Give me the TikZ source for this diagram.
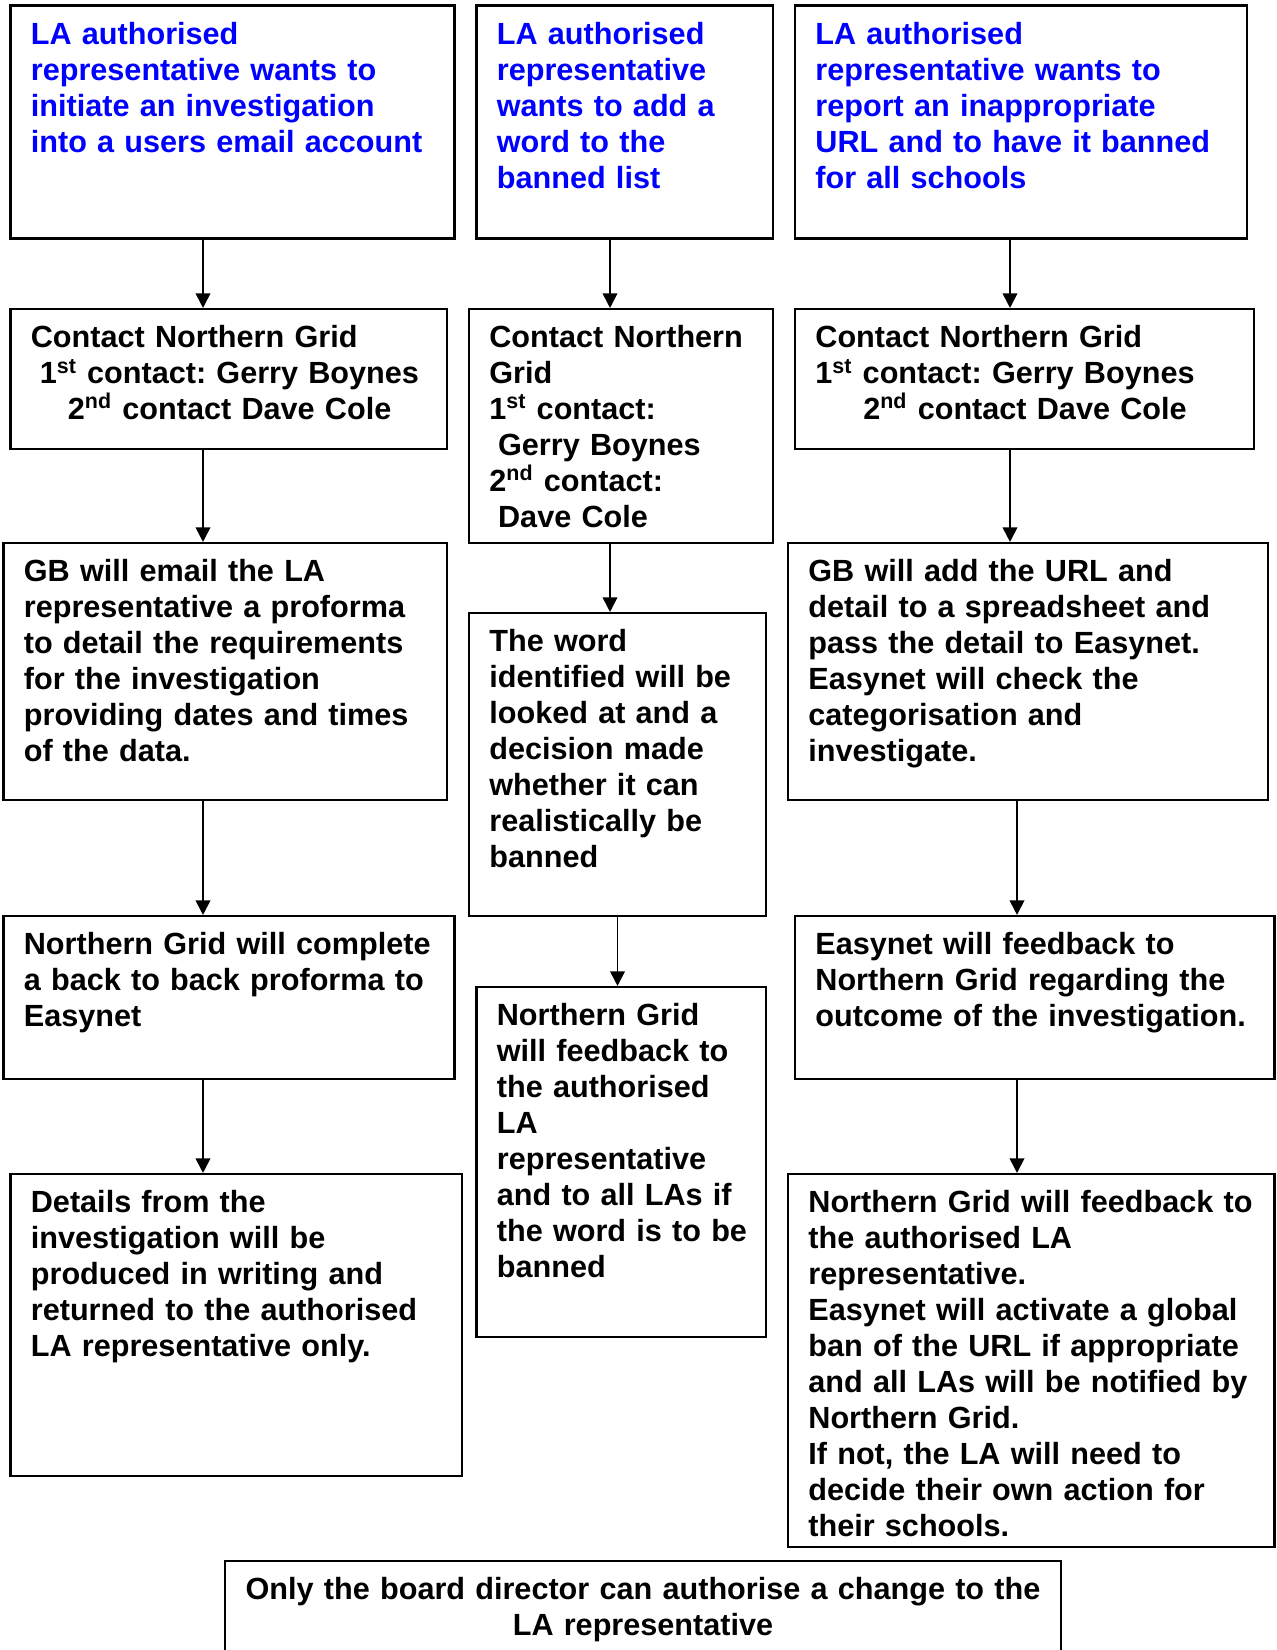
\documentclass[tikz,border=0pt]{standalone}
\usepackage{fontspec}
\setmainfont{Liberation Sans}
\usetikzlibrary{arrows.meta,fit,calc}
\definecolor{requestblue}{RGB}{0,0,255}

\tikzset{stage/.style={draw,line width=1pt,inner sep=0pt},
stage text/.style={anchor=base west,inner sep=0pt,text width=300pt,align=left,font=\bfseries\frenchspacing\fontsize{14.7pt}{17.25pt}\selectfont},
request text/.style={stage text,text=requestblue},
note text/.style={stage text,anchor=base,align=center,text width=390pt},
flow/.style={line width=0.9pt,-{Triangle[length=7pt,width=7pt]}}}

\begin{document}
\begin{tikzpicture}[x=0.48pt,y=-0.48pt]
\clip (0,0) rectangle (1276,1650);

%% Coordinates of the arrow columns (pixels, y downwards).
\coordinate (col1) at (203,0);
\coordinate (col2) at (610,0);
\coordinate (col2b) at (617.5,0);
\coordinate (col3) at (1010,0);
\coordinate (col3b) at (1017,0);

%% boxes, left column
\node [stage,fit={(10.5,5.5) (454.5,238.5)}] (a1) {};
\node [stage,fit={(10.5,309) (447,449)}] (b1) {};
\node [stage,fit={(3.5,543) (447,800)}] (c1) {};
\node [stage,fit={(3.5,916) (454.5,1079)}] (d1) {};
\node [stage,fit={(10.5,1174) (462,1476)}] (e1) {};

%% boxes, middle column
\node [stage,fit={(476.5,5.5) (773,238.5)}] (a2) {};
\node [stage,fit={(469,309) (773,543)}] (b2) {};
\node [stage,fit={(469,613) (766,916)}] (c2) {};
\node [stage,fit={(476.5,987) (766,1337)}] (d2) {};

%% boxes, right column
\node [stage,fit={(795,5.5) (1247,238.5)}] (a3) {};
\node [stage,fit={(795,309) (1254,449)}] (b3) {};
\node [stage,fit={(788,543) (1268,800)}] (c3) {};
\node [stage,fit={(795,916) (1274.5,1079)}] (d3) {};
\node [stage,fit={(788,1174) (1274.5,1547)}] (e3) {};

%% note at the foot (runs off the page)
\node [stage,fit={(225,1561) (1061,1700)}] (note) {};

%% arrows
\draw [flow] (a1.south -| col1) -- (b1.north -| col1);
\draw [flow] (b1.south -| col1) -- (c1.north -| col1);
\draw [flow] (c1.south -| col1) -- (d1.north -| col1);
\draw [flow] (d1.south -| col1) -- (e1.north -| col1);
\draw [flow] (a2.south -| col2) -- (b2.north -| col2);
\draw [flow] (b2.south -| col2) -- (c2.north -| col2);
\draw [flow] (c2.south -| col2b) -- (d2.north -| col2b);
\draw [flow] (a3.south -| col3) -- (b3.north -| col3);
\draw [flow] (b3.south -| col3) -- (c3.north -| col3);
\draw [flow] (c3.south -| col3b) -- (d3.north -| col3b);
\draw [flow] (d3.south -| col3b) -- (e3.north -| col3b);

%% box texts
\node [request text] (a1t) at ($(a1.north west)+(21,40)$) {LA authorised\\ representative wants to\\ initiate an investigation\\ into a users email account};
\node [request text] (a2t) at ($(a2.north west)+(21,40)$) {LA authorised\\ representative\\ wants to add a\\ word to the\\ banned list};
\node [request text] (a3t) at ($(a3.north west)+(21,40)$) {LA authorised\\ representative wants to\\ report an inappropriate\\ URL and to have it banned\\ for all schools};

\node [stage text] (b1t) at ($(b1.north west)+(21,40)$) {Contact Northern Grid\\ \hspace*{4.3pt}1\textsuperscript{st} contact: Gerry Boynes\\ \hspace*{17.8pt}2\textsuperscript{nd} contact Dave Cole};
\node [stage text] (b2t) at ($(b2.north west)+(21,40)$) {Contact Northern\\ Grid\\ 1\textsuperscript{st} contact:\\ \hspace*{4.2pt}Gerry Boynes\\ 2\textsuperscript{nd} contact:\\ \hspace*{4.2pt}Dave Cole};
\node [stage text] (b3t) at ($(b3.north west)+(21,40)$) {Contact Northern Grid\\ 1\textsuperscript{st} contact: Gerry Boynes\\ \hspace*{23pt}2\textsuperscript{nd} contact Dave Cole};

\node [stage text] (c1t) at ($(c1.north west)+(21,40)$) {GB will email the LA\\ representative a proforma\\ to detail the requirements\\ for the investigation\\ providing dates and times\\ of the data.};
\node [stage text] (c2t) at ($(c2.north west)+(21,40)$) {The word\\ identified will be\\ looked at and a\\ decision made\\ whether it can\\ realistically be\\ banned};
\node [stage text] (c3t) at ($(c3.north west)+(21,40)$) {GB will add the URL and\\ detail to a spreadsheet and\\ pass the detail to Easynet.\\ Easynet will check the\\ categorisation and\\ investigate.};

\node [stage text] (d1t) at ($(d1.north west)+(21,40)$) {Northern Grid will complete\\ a back to back proforma to\\ Easynet};
\node [stage text] (d2t) at ($(d2.north west)+(21,40)$) {Northern Grid\\ will feedback to\\ the authorised\\ LA\\ representative\\ and to all LAs if\\ the word is to be\\ banned};
\node [stage text] (d3t) at ($(d3.north west)+(21,40)$) {Easynet will feedback to\\ Northern Grid regarding the\\ outcome of the investigation.};

\node [stage text] (e1t) at ($(e1.north west)+(21,40)$) {Details from the\\ investigation will be\\ produced in writing and\\ returned to the authorised\\ LA representative only.};
\node [stage text] (e3t) at ($(e3.north west)+(21,40)$) {Northern Grid will feedback to\\ the authorised LA\\ representative.\\ Easynet will activate a global\\ ban of the URL if appropriate\\ and all LAs will be notified by\\ Northern Grid.\\ If not, the LA will need to\\ decide their own action for\\ their schools.};

\node [note text] (notet) at ($(note.north)+(0,40)$) {Only the board director can authorise a change to the\\ LA representative};

\end{tikzpicture}
\end{document}
